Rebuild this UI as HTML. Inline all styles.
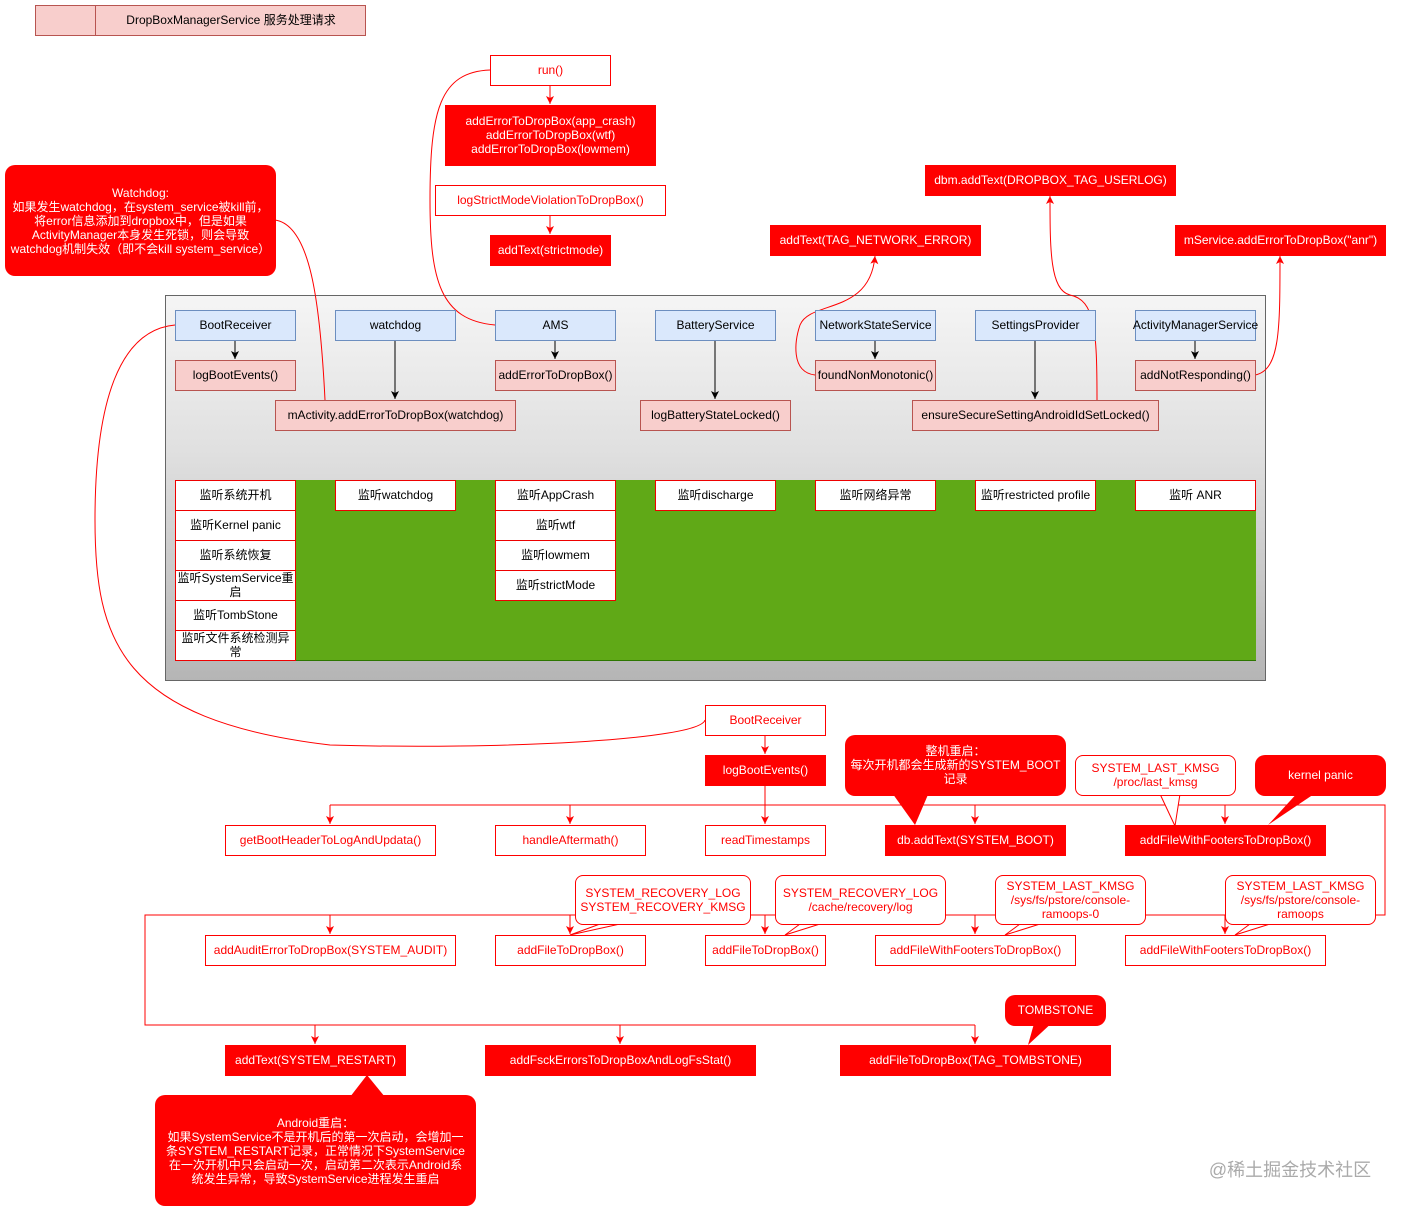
<!DOCTYPE html>
<html><head><meta charset="utf-8"><style>
body{margin:0;width:1401px;height:1211px;background:#fff;position:relative;overflow:hidden;font-family:"Liberation Sans","Noto Sans CJK SC",sans-serif;font-size:12px}
.b{position:absolute;box-sizing:border-box;display:flex;align-items:center;justify-content:center;text-align:center;line-height:14px;white-space:nowrap;padding-bottom:1px}
.w{background:#fff;border:1px solid #f00;color:#f00}
.r{background:#f00;border:1px solid #f00;color:#fff}
.bl{background:#dae8fc;border:1px solid #6c8ebf;color:#000}
.pk{background:#f8cecc;border:1px solid #b85450;color:#000}
.li{background:#fff;border:1px solid #e00;color:#000}
.cw{background:#fff;border:1px solid #f00;color:#f00;border-radius:8px;white-space:normal}
.cr{background:#f00;color:#fff;border-radius:10px;white-space:normal}
svg{position:absolute;left:0;top:0}
</style></head><body>
<div class="b pk" style="left:35px;top:5px;width:331px;height:31px"></div>
<div class="b" style="left:95px;top:5px;width:271px;height:31px;border-left:1px solid #b85450">DropBoxManagerService 服务处理请求</div>

<div class="b" style="left:165px;top:295px;width:1101px;height:386px;border:1px solid #666;background:linear-gradient(#f5f5f5,#e0e0e0 40%,#b5b5b5)"></div>
<div class="b" style="left:175px;top:480px;width:1081px;height:181px;background:#60a917;border-bottom:1px solid #2d7600"></div>

<svg width="1401" height="1211">
<defs>
<marker id="ar" markerWidth="9" markerHeight="9" refX="8" refY="4" orient="auto" markerUnits="userSpaceOnUse"><path d="M0,0 L8,4 L0,8 L2,4z" fill="#f00"/></marker>
<marker id="ab" markerWidth="9" markerHeight="9" refX="8" refY="4" orient="auto" markerUnits="userSpaceOnUse"><path d="M0,0 L8,4 L0,8 L2,4z" fill="#000"/></marker>
</defs>
<g stroke="#f00" fill="none" stroke-width="1" marker-end="url(#ar)">
<path d="M550 85V104"/>
<path d="M550 215V234"/>
<path d="M815 375C790 372 795 340 800 325C810 300 870 315 875 256"/>
<path d="M1097 400C1097 330 1095 300 1070 295C1050 290 1050 250 1050 196"/>
<path d="M1255 375C1280 370 1280 330 1280 256"/>
<path d="M765 735V754"/>
<path d="M330 805V824"/><path d="M570 805V824"/><path d="M765 805V824"/><path d="M975 805V824"/><path d="M1225 805V824"/>
<path d="M330 915V934"/><path d="M570 915V934"/><path d="M765 915V934"/><path d="M975 915V934"/><path d="M1225 915V934"/>
<path d="M315 1025V1044"/><path d="M620 1025V1044"/><path d="M975 1025V1044"/>
</g>
<g stroke="#f00" fill="none" stroke-width="1">
<path d="M495 325C440 320 430 280 430 200C430 110 440 72 490 70"/>
<path d="M275 220C310 225 320 300 325 400"/>
<path d="M175 325C120 330 95 400 95 520C95 640 120 720 330 745C500 750 700 740 705 720"/>
<path d="M765 785V805M330 805H1385V915H145V1025H975"/>
</g>
<g stroke="#000" fill="none" marker-end="url(#ab)">
<path d="M235 340V359"/><path d="M555 340V359"/><path d="M875 340V359"/><path d="M1195 340V359"/>
<path d="M395 340V399"/><path d="M715 340V399"/><path d="M1035 340V399"/>
</g>
<g fill="#f00">
<path d="M890 790L915 825L930 790z"/>
<path d="M1300 790L1268 825L1320 790z"/>
<path d="M1035 1020L1028 1045L1055 1020z"/>
<path d="M350 1097L367 1075L385 1097z"/>
</g>
<g fill="#fff" stroke="#f00">
<path d="M1160 794L1175 826L1180 794"/>
<path d="M600 924L570 935L620 924"/>
<path d="M800 924L785 935L820 924"/>
<path d="M1020 924L1005 935L1040 924"/>
<path d="M1250 924L1235 935L1270 924"/>
</g>
</svg>

<div class="b w" style="left:490px;top:55px;width:121px;height:31px">run()</div>
<div class="b r" style="left:445px;top:105px;width:211px;height:61px">addErrorToDropBox(app_crash)<br>addErrorToDropBox(wtf)<br>addErrorToDropBox(lowmem)</div>
<div class="b w" style="left:435px;top:185px;width:231px;height:31px">logStrictModeViolationToDropBox()</div>
<div class="b r" style="left:490px;top:235px;width:121px;height:31px">addText(strictmode)</div>
<div class="b r" style="left:925px;top:165px;width:251px;height:31px">dbm.addText(DROPBOX_TAG_USERLOG)</div>
<div class="b r" style="left:770px;top:225px;width:211px;height:31px">addText(TAG_NETWORK_ERROR)</div>
<div class="b r" style="left:1175px;top:225px;width:211px;height:31px">mService.addErrorToDropBox("anr")</div>
<div class="b cr" style="left:5px;top:165px;width:271px;height:111px;padding:0 5px">Watchdog:<br>如果发生watchdog，在system_service被kill前，将error信息添加到dropbox中，但是如果ActivityManager本身发生死锁，则会导致watchdog机制失效（即不会kill system_service）</div>

<div class="b bl" style="left:175px;top:310px;width:121px;height:31px">BootReceiver</div>
<div class="b bl" style="left:335px;top:310px;width:121px;height:31px">watchdog</div>
<div class="b bl" style="left:495px;top:310px;width:121px;height:31px">AMS</div>
<div class="b bl" style="left:655px;top:310px;width:121px;height:31px">BatteryService</div>
<div class="b bl" style="left:815px;top:310px;width:121px;height:31px">NetworkStateService</div>
<div class="b bl" style="left:975px;top:310px;width:121px;height:31px">SettingsProvider</div>
<div class="b bl" style="left:1135px;top:310px;width:121px;height:31px">ActivityManagerService</div>
<div class="b pk" style="left:175px;top:360px;width:121px;height:31px">logBootEvents()</div>
<div class="b pk" style="left:495px;top:360px;width:121px;height:31px">addErrorToDropBox()</div>
<div class="b pk" style="left:815px;top:360px;width:121px;height:31px">foundNonMonotonic()</div>
<div class="b pk" style="left:1135px;top:360px;width:121px;height:31px">addNotResponding()</div>
<div class="b pk" style="left:275px;top:400px;width:241px;height:31px">mActivity.addErrorToDropBox(watchdog)</div>
<div class="b pk" style="left:640px;top:400px;width:151px;height:31px">logBatteryStateLocked()</div>
<div class="b pk" style="left:912px;top:400px;width:247px;height:31px">ensureSecureSettingAndroidIdSetLocked()</div>

<div class="b li" style="left:175px;top:480px;width:121px;height:31px">监听系统开机</div>
<div class="b li" style="left:175px;top:510px;width:121px;height:31px">监听Kernel panic</div>
<div class="b li" style="left:175px;top:540px;width:121px;height:31px">监听系统恢复</div>
<div class="b li" style="left:175px;top:570px;width:121px;height:31px;white-space:normal">监听SystemService重启</div>
<div class="b li" style="left:175px;top:600px;width:121px;height:31px">监听TombStone</div>
<div class="b li" style="left:175px;top:630px;width:121px;height:31px;white-space:normal">监听文件系统检测异常</div>
<div class="b li" style="left:335px;top:480px;width:121px;height:31px">监听watchdog</div>
<div class="b li" style="left:495px;top:480px;width:121px;height:31px">监听AppCrash</div>
<div class="b li" style="left:495px;top:510px;width:121px;height:31px">监听wtf</div>
<div class="b li" style="left:495px;top:540px;width:121px;height:31px">监听lowmem</div>
<div class="b li" style="left:495px;top:570px;width:121px;height:31px">监听strictMode</div>
<div class="b li" style="left:655px;top:480px;width:121px;height:31px">监听discharge</div>
<div class="b li" style="left:815px;top:480px;width:121px;height:31px">监听网络异常</div>
<div class="b li" style="left:975px;top:480px;width:121px;height:31px">监听restricted profile</div>
<div class="b li" style="left:1135px;top:480px;width:121px;height:31px">监听 ANR</div>

<div class="b w" style="left:705px;top:705px;width:121px;height:31px">BootReceiver</div>
<div class="b r" style="left:705px;top:755px;width:121px;height:31px">logBootEvents()</div>
<div class="b cr" style="left:845px;top:735px;width:221px;height:61px">整机重启：<br>每次开机都会生成新的SYSTEM_BOOT记录</div>
<div class="b cw" style="left:1075px;top:755px;width:161px;height:41px">SYSTEM_LAST_KMSG<br>/proc/last_kmsg</div>
<div class="b cr" style="left:1255px;top:755px;width:131px;height:41px">kernel panic</div>

<div class="b w" style="left:225px;top:825px;width:211px;height:31px">getBootHeaderToLogAndUpdata()</div>
<div class="b w" style="left:495px;top:825px;width:151px;height:31px">handleAftermath()</div>
<div class="b w" style="left:705px;top:825px;width:121px;height:31px">readTimestamps</div>
<div class="b r" style="left:885px;top:825px;width:181px;height:31px">db.addText(SYSTEM_BOOT)</div>
<div class="b r" style="left:1125px;top:825px;width:201px;height:31px">addFileWithFootersToDropBox()</div>

<div class="b cw" style="left:575px;top:875px;width:176px;height:50px">SYSTEM_RECOVERY_LOG<br>SYSTEM_RECOVERY_KMSG</div>
<div class="b cw" style="left:775px;top:875px;width:171px;height:50px">SYSTEM_RECOVERY_LOG<br>/cache/recovery/log</div>
<div class="b cw" style="left:995px;top:875px;width:151px;height:50px">SYSTEM_LAST_KMSG<br>/sys/fs/pstore/console-<br>ramoops-0</div>
<div class="b cw" style="left:1225px;top:875px;width:151px;height:50px">SYSTEM_LAST_KMSG<br>/sys/fs/pstore/console-<br>ramoops</div>

<div class="b w" style="left:205px;top:935px;width:251px;height:31px">addAuditErrorToDropBox(SYSTEM_AUDIT)</div>
<div class="b w" style="left:495px;top:935px;width:151px;height:31px">addFileToDropBox()</div>
<div class="b w" style="left:705px;top:935px;width:121px;height:31px">addFileToDropBox()</div>
<div class="b w" style="left:875px;top:935px;width:201px;height:31px">addFileWithFootersToDropBox()</div>
<div class="b w" style="left:1125px;top:935px;width:201px;height:31px">addFileWithFootersToDropBox()</div>

<div class="b cr" style="left:1005px;top:995px;width:101px;height:31px">TOMBSTONE</div>
<div class="b r" style="left:225px;top:1045px;width:181px;height:31px">addText(SYSTEM_RESTART)</div>
<div class="b r" style="left:485px;top:1045px;width:271px;height:31px">addFsckErrorsToDropBoxAndLogFsStat()</div>
<div class="b r" style="left:840px;top:1045px;width:271px;height:31px">addFileToDropBox(TAG_TOMBSTONE)</div>
<div class="b cr" style="left:155px;top:1095px;width:321px;height:111px;padding:0 10px">Android重启：<br>如果SystemService不是开机后的第一次启动，会增加一条SYSTEM_RESTART记录，正常情况下SystemService在一次开机中只会启动一次，启动第二次表示Android系统发生异常，导致SystemService进程发生重启</div>

<div class="b" style="left:1205px;top:1158px;width:170px;height:24px;color:#aaa;font-size:18px">@稀土掘金技术社区</div>
</body></html>
